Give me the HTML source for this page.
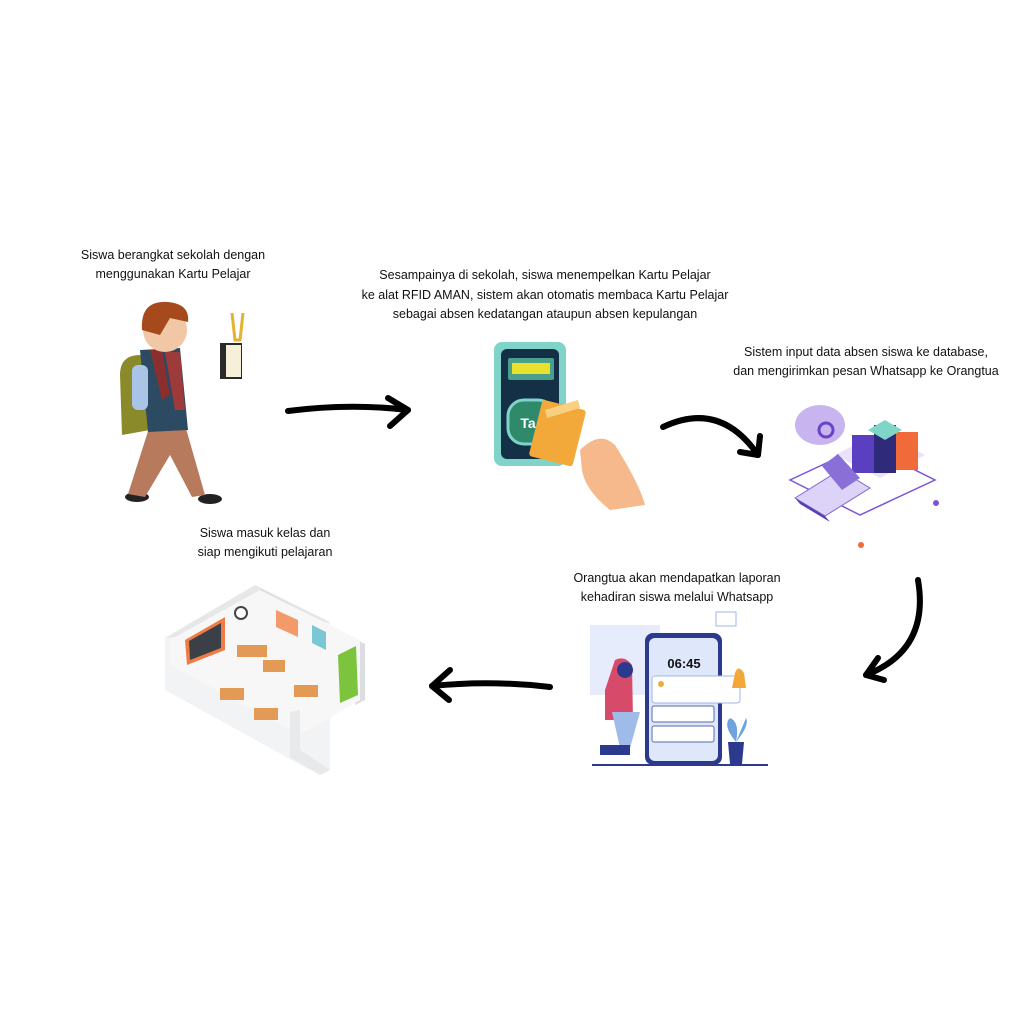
<!DOCTYPE html>
<html><head><meta charset="utf-8"><style>
html,body{margin:0;padding:0;background:#fff;}
svg{display:block}
text{font-family:"Liberation Sans",sans-serif;font-size:12.5px;fill:#111;text-anchor:middle}
</style></head><body>
<svg width="1024" height="1024" viewBox="0 0 1024 1024" xmlns="http://www.w3.org/2000/svg">
<rect width="1024" height="1024" fill="#fff"/>
<text x="173" y="259">Siswa berangkat sekolah dengan</text>
<text x="173" y="278">menggunakan Kartu Pelajar</text>
<text x="545" y="279">Sesampainya di sekolah, siswa menempelkan Kartu Pelajar</text>
<text x="545" y="299">ke alat RFID AMAN, sistem akan otomatis membaca Kartu Pelajar</text>
<text x="545" y="318">sebagai absen kedatangan ataupun absen kepulangan</text>
<text x="866" y="356">Sistem input data absen siswa ke database,</text>
<text x="866" y="375">dan mengirimkan pesan Whatsapp ke Orangtua</text>
<text x="265" y="537">Siswa masuk kelas dan</text>
<text x="265" y="556">siap mengikuti pelajaran</text>
<text x="677" y="582">Orangtua akan mendapatkan laporan</text>
<text x="677" y="601">kehadiran siswa melalui Whatsapp</text>

<g fill="none" stroke="#000" stroke-width="6" stroke-linecap="round" stroke-linejoin="round">
<path d="M288 411 Q350 403 408 410"/><path d="M388 398 L408 410 L390 426"/>
<path d="M663 427 Q720 400 758 455"/><path d="M740 452 L758 455 L760 436"/>
<path d="M918 580 Q930 650 866 675"/><path d="M878 658 L866 675 L884 680"/>
<path d="M550 687 Q490 680 432 686"/><path d="M450 670 L432 686 L449 700"/>
</g>

<g>
<ellipse cx="137" cy="497" rx="12" ry="5" fill="#222"/>
<ellipse cx="210" cy="499" rx="12" ry="5" fill="#222"/>
<path d="M150 425 L185 425 L205 495 L192 497 L170 455 L145 497 L128 494 Z" fill="#b77a5c"/>
<path d="M120 375 Q120 355 140 355 L150 355 L150 430 L122 435 Z" fill="#8a8a2a"/>
<path d="M140 350 L180 348 L188 430 L148 432 Z" fill="#2d4a63"/>
<path d="M150 350 L162 350 L170 395 L162 400 Z" fill="#8b2e2e"/>
<path d="M165 352 L180 352 L185 410 L175 410 Z" fill="#9d3a3a"/>
<rect x="132" y="365" width="16" height="45" rx="6" fill="#a9c4e6"/>
<circle cx="165" cy="330" r="22" fill="#f1c7a5"/>
<path d="M142 330 Q140 300 168 302 Q190 304 188 322 L170 318 L160 335 Z" fill="#a64a1e"/>
</g>
<g>
<path d="M232 313 L235 340 L240 340 L243 313" fill="none" stroke="#e3b230" stroke-width="3"/>
<rect x="220" y="343" width="22" height="36" fill="#2a2a2a"/>
<rect x="226" y="345" width="15" height="32" fill="#f6f0d8"/>
</g>

<g>
<rect x="494" y="342" width="72" height="124" rx="8" fill="#7fd3c8"/>
<rect x="501" y="349" width="58" height="110" rx="6" fill="#133046"/>
<rect x="508" y="358" width="46" height="22" rx="2" fill="#4aa08a"/>
<rect x="512" y="363" width="38" height="11" fill="#e9e12d"/>
<rect x="508" y="400" width="46" height="44" rx="16" fill="#2e8a6a" stroke="#7fd3c8" stroke-width="3"/>
<text x="528" y="428" style="font-size:14px;font-weight:bold;fill:#fff">Ta</text>
<rect x="535" y="404" width="45" height="58" rx="3" fill="#f3a93a" transform="rotate(14 557 433)"/>
<path d="M545 410 L578 400 L580 408 L547 418 Z" fill="#f9cf80"/>
<path d="M580 450 Q600 430 615 445 Q640 485 645 505 L610 510 Q585 490 582 470 Z" fill="#f5b98c"/>
</g>

<g>
<path d="M790 480 L860 515 L935 480 L865 445 Z" fill="none" stroke="#7b55d9" stroke-width="1.5"/>
<path d="M835 455 L880 478 L925 455 L880 432 Z" fill="#eae2fb"/>
<ellipse cx="820" cy="425" rx="25" ry="20" fill="#c8b5ef"/>
<circle cx="826" cy="430" r="7" fill="none" stroke="#6a43c8" stroke-width="3"/>
<rect x="852" y="435" width="22" height="38" fill="#5a3fc0"/>
<rect x="874" y="425" width="22" height="48" fill="#2f2a7a"/>
<rect x="896" y="432" width="22" height="38" fill="#f06a3a"/>
<path d="M868 430 L885 420 L902 430 L885 440 Z" fill="#7fd6c6"/>
<path d="M795 498 L840 470 L870 488 L825 516 Z" fill="#ddd2f7" stroke="#8067c9"/>
<path d="M822 466 L842 490 L860 478 L838 454 Z" fill="#8a70d6"/>
<path d="M795 498 L825 516 L830 522 L800 504 Z" fill="#5a40b8"/>
<circle cx="936" cy="503" r="3" fill="#7b55d9"/><circle cx="861" cy="545" r="3" fill="#f06a3a"/>
</g>

<g>
<path d="M165 638 L255 585 L330 622 L330 770 Z" fill="#e6e7e9"/>
<path d="M165 638 L165 690 L310 770 L330 770 L330 622 Z" fill="#f2f3f4"/>
<path d="M260 588 L260 600 L355 648 L355 705 L365 700 L365 644 Z" fill="#dcdde0"/>
<path d="M170 640 L260 590 L360 640 L360 700 L300 735 L170 665 Z" fill="#f7f7f7"/>
<path d="M185 640 L225 617 L225 650 L187 665 Z" fill="#ef7c47"/>
<path d="M189 641 L221 623 L221 648 L190 660 Z" fill="#3b4046"/>
<circle cx="241" cy="613" r="6" fill="#fff" stroke="#444" stroke-width="2"/>
<path d="M276 610 L298 620 L298 637 L276 627 Z" fill="#f29a6a"/>
<path d="M312 625 L326 632 L326 650 L312 643 Z" fill="#7bc7d4"/>
<path d="M338 655 L356 646 L358 695 L340 703 Z" fill="#7cc43d"/>
<g fill="#e29a55">
<rect x="237" y="645" width="30" height="12"/><rect x="263" y="660" width="22" height="12"/>
<rect x="220" y="688" width="24" height="12"/><rect x="294" y="685" width="24" height="12"/>
<rect x="254" y="708" width="24" height="12"/>
</g>
<path d="M300 710 L300 750 L330 770 L320 775 L290 757 L290 712 Z" fill="#e8e9eb"/>
</g>

<g>
<rect x="590" y="625" width="70" height="70" fill="#e6ecfb"/>
<rect x="716" y="612" width="20" height="14" fill="#fff" stroke="#9fb6e8"/>
<rect x="645" y="633" width="77" height="132" rx="8" fill="#2b3a8c"/>
<rect x="649" y="638" width="69" height="123" rx="6" fill="#dfe8fb"/>
<text x="684" y="668" style="font-size:13px;font-weight:bold;fill:#111">06:45</text>
<rect x="652" y="676" width="88" height="27" rx="3" fill="#fff" stroke="#9fb6e8"/>
<circle cx="661" cy="684" r="3" fill="#f3a93a"/>
<rect x="652" y="706" width="62" height="16" rx="2" fill="#fff" stroke="#5a6aa8"/>
<rect x="652" y="726" width="62" height="16" rx="2" fill="#fff" stroke="#5a6aa8"/>
<path d="M735 673 Q738 664 744 673 L746 688 L732 688 Z" fill="#f3a93a"/>
<path d="M615 660 Q625 655 632 665 L633 720 L605 720 L605 690 Z" fill="#d84a6a"/>
<circle cx="625" cy="670" r="8" fill="#2b3a8c"/>
<path d="M612 712 L640 712 L630 748 L620 748 Z" fill="#9fbce8"/>
<rect x="600" y="745" width="30" height="10" fill="#2b3a8c"/>
<path d="M728 742 L744 742 L742 764 L730 764 Z" fill="#2b3a8c"/>
<path d="M736 742 Q722 725 730 718 Q740 722 736 742 Q750 725 746 718" fill="#6fa3e0"/>
<rect x="592" y="764" width="176" height="2" fill="#2b3a8c"/>
</g>
</svg>
</body></html>
